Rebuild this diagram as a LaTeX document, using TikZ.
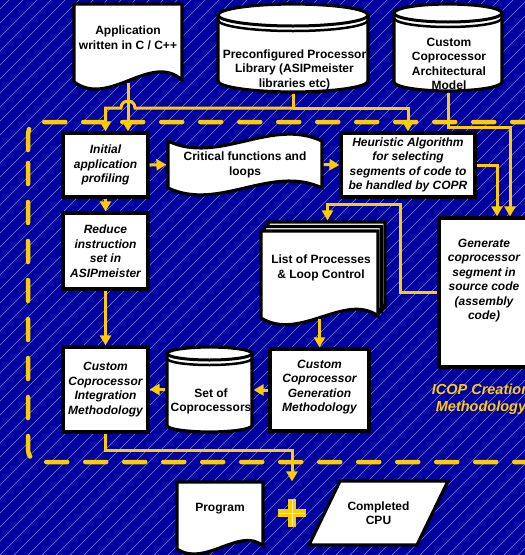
\documentclass[tikz,border=0pt]{standalone}
\usepackage{fontspec}
\setmainfont{Liberation Sans}
\usetikzlibrary{arrows.meta}
\definecolor{bgblue}{RGB}{0,0,160}
\definecolor{gold}{RGB}{255,204,0}
\definecolor{hatch}{RGB}{120,130,230}
\definecolor{goldlight}{RGB}{255,240,170}
\newcommand\mycyl[5]{%
  \pgfmathsetmacro\cR{(#2-#1)/2}%
  \path[outl] (#1,#3+#5) -- (#1,#4-#5) arc[start angle=180,end angle=360,x radius=\cR pt,y radius=#5 pt] -- (#2,#3+#5) arc[start angle=0,end angle=180,x radius=\cR pt,y radius=#5 pt] -- cycle;
  \draw[black,line width=3pt] (#1,#3+#5) arc[start angle=180,end angle=360,x radius=\cR pt,y radius=#5 pt];
  \draw[black,line width=2.5pt] (#1,#3+#5+5) arc[start angle=180,end angle=360,x radius=\cR pt,y radius=#5 pt];
}
\newcommand\mypage[2]{% shift x, shift y
  \path[outl] (261+#1,231+#2) -- (378+#1,231+#2) -- (378+#1,316+#2) .. controls (345+#1,292+#2) and (300+#1,342+#2) .. (261+#1,318+#2) -- cycle;
}
\begin{document}
\begin{tikzpicture}[x=1pt,y=-1pt,
  conn/.style={draw=gold,line width=3pt,-{Triangle[width=11pt,length=10pt]}},
  glin/.style={draw=gold,line width=3pt},
  frame/.style={draw=gold,line width=4.5pt,line cap=round,dash pattern=on 21pt off 18pt,rounded corners=12pt},
  outl/.style={draw=black,line width=3.2pt,fill=white,line join=miter},
  box/.style={outl,inner sep=0pt,outer sep=1.6pt,align=center,font=\fontsize{12}{14.5}\selectfont\bfseries\itshape},
  shp/.style={inner sep=0pt,outer sep=1.6pt},
  itx/.style={inner sep=0pt,align=center,font=\fontsize{12}{14.5}\selectfont\bfseries\itshape},
  ntx/.style={inner sep=0pt,align=center,font=\fontsize{12}{14.5}\selectfont\bfseries},
]
\useasboundingbox (0,0) rectangle (525,555);
\clip (0,0) rectangle (525,555);
% background
\fill[bgblue] (0,0) rectangle (525,555);
\foreach \i in {-41,...,38} \draw[hatch,line width=0.5pt] (\i*14,555) -- ++(555,-555);
% dashed region
\draw[frame] (28,150) -- (28,122) -- (560,122);
\draw[frame] (28,163) -- (28,462) -- (560,462);
% --- shapes ---
% application document
\draw[outl] (74,4) -- (182,4) -- (182,80) .. controls (150,52) and (110,108) .. (74,82) -- cycle;
\node[shp,minimum width=108,minimum height=77] (app) at (128,42.5) {};
\node[ntx] (apptx) at (128,38) {Application\\written in C / C++};
% library cylinder
\mycyl{218}{368}{4}{92}{11}
\node[shp,minimum width=150,minimum height=88] (lib) at (293,48) {};
\node[ntx] (libtx) at (294.5,69.5) {Preconfigured Processor\\Library (ASIPmeister\\libraries etc)};
% architectural model cylinder
\mycyl{394}{502}{4}{91}{9}
\node[shp,minimum width=108,minimum height=87] (arch) at (448,47.5) {};
\node[ntx] (archtx) at (449,64) {Custom\\Coprocessor\\Architectural\\Model};
% boxes
\node[box,minimum width=85,minimum height=64] (init) at (105.5,165) {Initial\\application\\profiling};
\node[box,minimum width=134,minimum height=64] (heur) at (408,165) {Heuristic Algorithm\\for selecting\\segments of code to\\be handled by COPR};
\node[box,minimum width=85,minimum height=76] (reduce) at (105.5,251) {Reduce\\instruction\\set in\\ASIPmeister};
\node[box,minimum width=85,minimum height=85] (integ) at (105.5,389.5) {Custom\\Coprocessor\\Integration\\Methodology};
\node[box,minimum width=99,minimum height=82] (cgen) at (319.5,390) {};
\node[itx] (cgentx) at (319.5,387) {Custom\\Coprocessor\\Generation\\Methodology};
\node[box,minimum width=92,minimum height=149] (gen) at (485,292.5) {};
\node[itx] (gentx) at (484,280.5) {Generate\\coprocessor\\segment in\\source code\\(assembly\\code)};
% critical functions tape
\draw[outl] (168,141) .. controls (219,165) and (271,117) .. (322,141) -- (322,188) .. controls (271,164) and (219,212) .. (168,188) -- cycle;
\node[shp,minimum width=154,minimum height=47] (crit) at (245,164.5) {};
\node[ntx] (crittx) at (245,165) {Critical functions and\\loops};
% list of processes (stacked documents)
\mypage{7}{-9}
\mypage{3.5}{-4.5}
\mypage{0}{0}
\node[shp,minimum width=117,minimum height=86] (list) at (319.5,274) {};
\node[ntx] (listtx) at (321,268) {List of Processes\\\& Loop Control};
% set of coprocessors cylinder
\mycyl{167}{252}{347}{432}{6.5}
\node[shp,minimum width=85,minimum height=85] (set) at (209.5,389.5) {};
\node[ntx] (settx) at (211,401.5) {Set of\\Coprocessors};
% ICOP label
\node[inner sep=0pt,align=center,text=gold,font=\fontsize{14.5}{17}\selectfont\bfseries\itshape] (icop) at (481,399) {ICOP Creation\\Methodology};
% program document
\draw[outl] (177,482) -- (263,482) -- (263,546) .. controls (240,526) and (205,568) .. (177,549) -- cycle;
\node[shp,minimum width=86,minimum height=64] (prog) at (220,514) {};
\node[ntx] (progtx) at (220,509) {Program};
% completed CPU parallelogram
\draw[outl] (340,481) -- (448,481) -- (417,545) -- (309,545) -- cycle;
\node[ntx] (cpu) at (378.5,513) {Completed\\CPU};
% plus sign
\node[shp,minimum size=28] (plus) at (292,513) {};
\fill[gold] ([xshift=-14pt,yshift=4pt]plus.center) rectangle ([xshift=14pt,yshift=-4pt]plus.center);
\fill[gold] ([xshift=-4pt,yshift=14pt]plus.center) rectangle ([xshift=4pt,yshift=-14pt]plus.center);
\draw[goldlight,line width=0.7pt] ([xshift=-13pt]plus.center) -- ([xshift=13pt]plus.center);
\draw[goldlight,line width=0.7pt] ([yshift=13pt]plus.center) -- ([yshift=-13pt]plus.center);
% --- connectors ---
\coordinate (genA) at ([xshift=12pt]gen.north);
\coordinate (genB) at ([xshift=25pt]gen.north);
\coordinate (listin) at ([xshift=8pt,yshift=9pt]list.north);
\coordinate (plusin) at ([yshift=16pt]plus.north);
\coordinate (hopc) at (app.south |- 0,108);
\draw[glin] (lib.south) -- (lib.south |- 0,108);
\draw[conn] (lib.south |- 0,108) -| (heur.north);
\draw[conn] (lib.south |- 0,108) -- ([xshift=7pt]hopc) .. controls ([xshift=7pt,yshift=9.3pt]hopc) and ([xshift=-7pt,yshift=9.3pt]hopc) .. ([xshift=-7pt]hopc) -| (init.north);
\draw[conn] (app.south) -- (app.south |- init.north);
\draw[conn] (arch.south) |- (genB |- 0,127) -- (genB);
\draw[conn] (heur.east) -| (genA);
\draw[conn] (init.east) -- (crit.west);
\draw[conn] (crit.east) -- (heur.west);
\draw[conn] (init.south) -- (reduce.north);
\draw[conn] (reduce.south) -- (integ.north);
\draw[conn] (gen.west) -| (400,204) -| (listin);
\draw[conn] (list.south) -- (cgen.north);
\draw[conn] (cgen.west) -- (cgen.west -| set.east);
\draw[conn] (set.west) -- (set.west -| integ.east);
\draw[conn] (integ.south) |- (plusin |- 0,450) -- (plusin);
\end{tikzpicture}
\end{document}
